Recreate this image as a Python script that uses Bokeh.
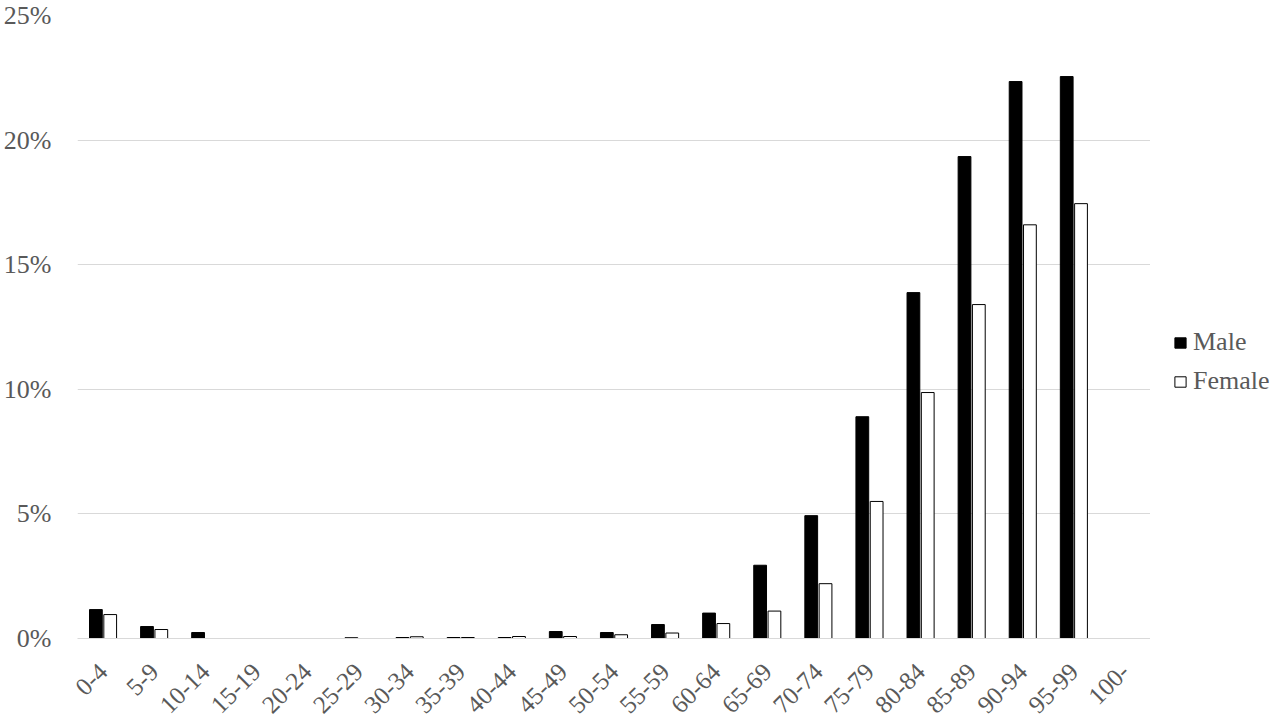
from bokeh.plotting import figure
from bokeh.layouts import row
from bokeh.models import ColumnDataSource, Legend, LegendItem, FactorRange, NumeralTickFormatter, FixedTicker
from bokeh.transform import dodge
from bokeh.embed import file_html
from bokeh.resources import INLINE
import math

age_groups = ["0-4", "5-9", "10-14", "15-19", "20-24", "25-29", "30-34", "35-39",
              "40-44", "45-49", "50-54", "55-59", "60-64", "65-69", "70-74", "75-79",
              "80-84", "85-89", "90-94", "95-99", "100-"]
male = [1.16, 0.48, 0.24, 0.0, 0.0, 0.03, 0.04, 0.04, 0.04, 0.28, 0.24, 0.56,
        1.02, 2.94, 4.93, 8.90, 13.88, 19.34, 22.35, 22.55, 0.0]
female = [0.96, 0.36, 0.0, 0.0, 0.0, 0.0, 0.07, 0.04, 0.08, 0.08, 0.15, 0.22,
          0.60, 1.10, 2.20, 5.50, 9.87, 13.40, 16.60, 17.45, 0.0]
y_ticks = [0, 5, 10, 15, 20, 25]
series_names = ["Male", "Female"]

src = ColumnDataSource(dict(age=age_groups, male=male, female=female))

FONT = "Liberation Serif"
GREY = "#595959"

p = figure(x_range=FactorRange(*age_groups, range_padding=0), y_range=(0, 25),
           width=1150, height=723, output_backend="svg", toolbar_location=None,
           min_border_left=73, min_border_right=0, min_border_top=15, min_border_bottom=85)
p.outline_line_color = None
p.background_fill_color = "white"

p.vbar(x=dodge("age", -0.14, range=p.x_range), top="male", width=0.25, source=src,
       fill_color="black", line_color="black", line_width=1)
p.vbar(x=dodge("age", 0.14, range=p.x_range), top="female", width=0.25, source=src,
       fill_color="white", line_color="black", line_width=1)

p.xgrid.grid_line_color = None
p.ygrid.grid_line_color = "#d9d9d9"
p.ygrid.grid_line_width = 1
p.yaxis.ticker = FixedTicker(ticks=y_ticks)
p.yaxis.formatter = NumeralTickFormatter(format="0")
p.yaxis.major_label_overrides = {t: f"{t}%" for t in y_ticks}
p.yaxis.axis_line_color = None
p.yaxis.major_tick_line_color = None
p.yaxis.minor_tick_line_color = None
p.yaxis.major_label_text_font = FONT
p.yaxis.major_label_text_font_size = "26px"
p.yaxis.major_label_text_color = GREY
p.yaxis.major_label_standoff = 20

p.xaxis.axis_line_color = "#d9d9d9"
p.xaxis.major_tick_line_color = None
p.xaxis.minor_tick_line_color = None
p.xaxis.major_label_orientation = math.pi / 4
p.xaxis.major_label_text_font = FONT
p.xaxis.major_label_text_font_size = "25px"
p.xaxis.major_label_text_color = GREY
p.xaxis.major_label_standoff = 23

# legend panel
lf = figure(width=130, height=723, x_range=(0, 1), y_range=(0, 1),
            output_backend="svg", toolbar_location=None,
            x_axis_location=None, y_axis_location=None,
            min_border_left=0, min_border_right=0, min_border_top=0, min_border_bottom=0)
lf.outline_line_color = None
lf.xgrid.grid_line_color = None
lf.ygrid.grid_line_color = None
# proxies placed outside the visible range; only used for legend swatches
lm = lf.vbar(x=[10], top=[1], width=0.1, fill_color="black", line_color="black")
lw = lf.vbar(x=[10], top=[1], width=0.1, fill_color="white", line_color="black")

legend = Legend(items=[LegendItem(label=series_names[0], renderers=[lm]),
                       LegendItem(label=series_names[1], renderers=[lw])],
                location=(23, 242), orientation="vertical")
legend.label_text_font = FONT
legend.label_text_font_size = "26px"
legend.label_text_color = GREY
legend.label_height = 26
legend.glyph_width = 14
legend.glyph_height = 13
legend.label_standoff = 6
legend.spacing = 9
legend.padding = 0
legend.margin = 0
legend.border_line_color = None
legend.background_fill_alpha = 0
lf.add_layout(legend, "center")

layout = row(p, lf)
open("out.html", "w").write(file_html(layout, INLINE))
